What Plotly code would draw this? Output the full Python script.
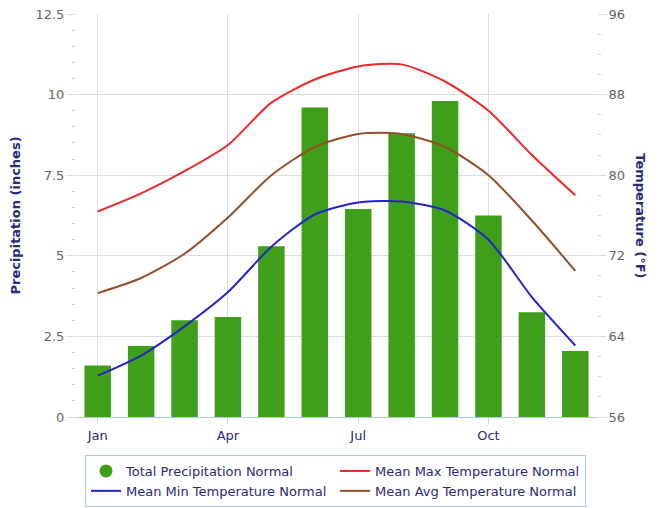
import plotly.graph_objects as go

months = ["Jan", "Feb", "Mar", "Apr", "May", "Jun", "Jul", "Aug", "Sep", "Oct", "Nov", "Dec"]
precip = [1.6, 2.2, 3.0, 3.1, 5.3, 9.6, 6.45, 8.8, 9.8, 6.25, 3.25, 2.05]
t_max = [76.4, 78.2, 80.4, 83.0, 87.2, 89.5, 90.8, 91.0, 89.3, 86.4, 82.0, 78.0]
t_min = [60.1, 62.1, 65.0, 68.4, 72.9, 76.1, 77.3, 77.4, 76.5, 73.6, 67.9, 63.1]
t_avg = [68.3, 69.8, 72.2, 75.8, 80.0, 82.8, 84.1, 84.1, 82.8, 80.0, 75.5, 70.5]
x_ticks = ["Jan", "Apr", "Jul", "Oct"]
left_ticks = [0, 2.5, 5, 7.5, 10, 12.5]
right_ticks = [56, 64, 72, 80, 88, 96]

GREEN = "#3f9e1a"
RED = "#ec2a2a"
BLUE = "#2424c8"
BROWN = "#954e2a"
NAVY = "#2a2a78"
TICK = "#666666"
GRID = "#d9dee6"
FONT = "DejaVu Sans"

# page body has an 8px margin; figure is sized to fit the 659x508 window
W, H = 651, 500

fig = go.Figure()
fig.add_trace(go.Bar(x=months, y=precip, name="Total Precipitation Normal",
                     marker=dict(color=GREEN, line=dict(width=0)), showlegend=False,
                     yaxis="y"))
fig.add_trace(go.Scatter(x=[None], y=[None], mode="markers", name="Total Precipitation Normal",
                         marker=dict(color=GREEN, size=13, symbol="circle"), yaxis="y"))
fig.add_trace(go.Scatter(x=months, y=t_max, mode="lines", name="Mean Max Temperature Normal",
                         line=dict(color=RED, width=2, shape="spline", smoothing=0.7), yaxis="y2"))
fig.add_trace(go.Scatter(x=months, y=t_min, mode="lines", name="Mean Min Temperature Normal",
                         line=dict(color=BLUE, width=2, shape="spline", smoothing=0.7), yaxis="y2"))
fig.add_trace(go.Scatter(x=months, y=t_avg, mode="lines", name="Mean Avg Temperature Normal",
                         line=dict(color=BROWN, width=2, shape="spline", smoothing=0.7), yaxis="y2"))

fig.update_layout(
    width=W, height=H,
    margin=dict(l=68, r=62, t=6, b=91, autoexpand=False),
    paper_bgcolor="white", plot_bgcolor="white",
    font=dict(family=FONT, size=13, color=TICK),
    bargap=0.39,
    showlegend=True,
    legend=dict(orientation="h", xref="container", yref="container",
                x=77 / W, y=1 - 447 / H, xanchor="left", yanchor="top",
                bgcolor="white", bordercolor="#a9cde6", borderwidth=1,
                font=dict(family=FONT, size=13, color=NAVY),
                itemwidth=30, tracegroupgap=0),
    xaxis=dict(type="category", tickmode="array", tickvals=x_ticks, ticktext=x_ticks,
               showgrid=True, gridcolor=GRID, gridwidth=1,
               showline=True, linecolor="#a9cde6", linewidth=1,
               ticks="outside", ticklen=6, tickcolor="#c8d4e0",
               tickfont=dict(family=FONT, size=13, color=NAVY),
               range=[-0.5, 11.5], zeroline=False),
    yaxis=dict(range=[0, 12.5], tickmode="array", tickvals=left_ticks,
               ticktext=["0", "2.5", "5", "7.5", "10", "12.5"],
               showgrid=True, gridcolor=GRID, gridwidth=1, zeroline=False,
               ticks="outside", ticklen=8, tickcolor=GRID, ticklabeloverflow="allow",
               minor=dict(dtick=0.5, ticks="outside", ticklen=3, tickcolor="#d0d0d0", showgrid=False),
               tickfont=dict(family=FONT, size=13, color=TICK), showline=False),
    yaxis2=dict(range=[56, 96], overlaying="y", side="right", tickmode="array",
                tickvals=right_ticks, showgrid=False, zeroline=False,
                ticks="outside", ticklen=8, tickcolor=GRID, ticklabeloverflow="allow",
                minor=dict(dtick=2, ticks="outside", ticklen=3, tickcolor="#d0d0d0"),
                tickfont=dict(family=FONT, size=13, color=TICK), showline=False),
    annotations=[
        dict(text="<b>Precipitation (inches)</b>", xref="paper", yref="paper",
             x=-0.117, y=0.5, xanchor="center", yanchor="middle", textangle=-90,
             showarrow=False, font=dict(family=FONT, size=13, color=NAVY)),
        dict(text="<b>Temperature (°F)</b>", xref="paper", yref="paper",
             x=1.083, y=0.5, xanchor="center", yanchor="middle", textangle=90,
             showarrow=False, font=dict(family=FONT, size=13, color=NAVY)),
    ],
)

fig.write_html("out.html")
